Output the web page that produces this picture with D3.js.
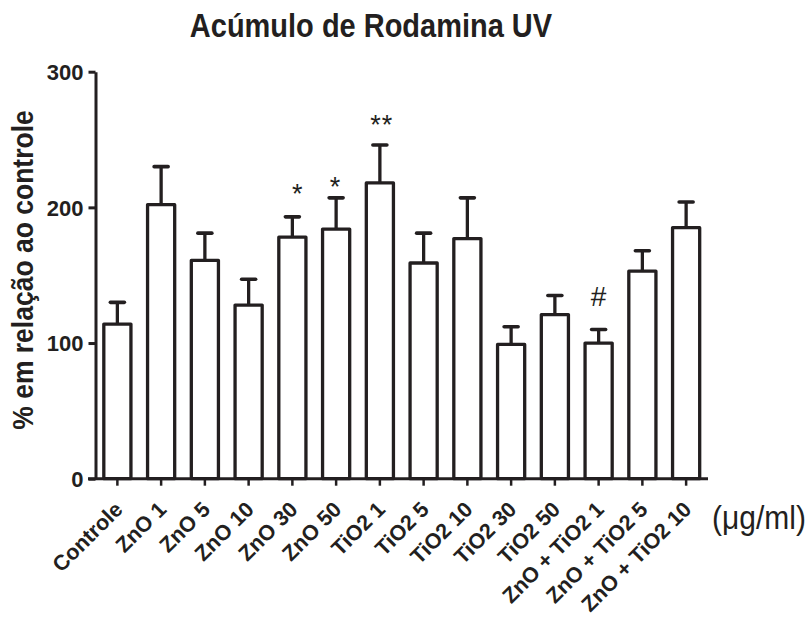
<!DOCTYPE html>
<html>
<head>
<meta charset="utf-8">
<script src="https://cdn.jsdelivr.net/npm/d3@7"></script>
<style>
  html, body { margin: 0; padding: 0; background: #fff; }
  text { font-family: "Liberation Sans", Arial, Helvetica, sans-serif; fill: #231f20; }
</style>
</head>
<body>
<svg id="chart" width="808" height="623"></svg>
<script>
// Rhodamine accumulation under UV, as % of control (mean + SEM)
const categories = ["Controle", "ZnO 1", "ZnO 5", "ZnO 10", "ZnO 30", "ZnO 50",
  "TiO2 1", "TiO2 5", "TiO2 10", "TiO2 30", "TiO2 50",
  "ZnO + TiO2 1", "ZnO + TiO2 5", "ZnO + TiO2 10"];
const means = [114, 202, 161, 128, 178, 184, 218, 159, 177, 99, 121, 100, 153, 185];
const sem = [16, 28, 20, 19, 15, 23, 28, 22, 30, 13, 14, 10, 15, 19];
const marks = ["", "", "", "", "*", "*", "**", "", "", "", "", "#", "", ""];
const yTicks = [0, 100, 200, 300];

const ink = "#231f20";
const svg = d3.select("#chart");

const x = d3.scaleBand().domain(categories).range([95.5, 708]).padding(0);
const y = d3.scaleLinear().domain([0, 300]).range([478.7, 71.7]);
const barW = x.bandwidth() * 0.62;
const cx = c => x(c) + x.bandwidth() / 2;

// Title
svg.append("text")
  .attr("transform", "translate(371,37) scale(1,1.12)")
  .attr("text-anchor", "middle")
  .attr("font-size", 29).attr("font-weight", "bold")
  .text("Acúmulo de Rodamina UV");

// Y axis title
svg.append("text")
  .attr("transform", "translate(33,270) rotate(-90) scale(1,1.08)")
  .attr("text-anchor", "middle")
  .attr("font-size", 26.5).attr("font-weight", "bold")
  .text("% em relação ao controle");

// Bars
const data = categories.map((c, i) => ({ c, m: means[i], e: sem[i], s: marks[i] }));

svg.append("g").selectAll("rect").data(data).join("rect")
  .attr("x", d => cx(d.c) - barW / 2)
  .attr("y", d => y(d.m))
  .attr("width", barW)
  .attr("height", d => y(0) - y(d.m))
  .attr("fill", "#fff")
  .attr("stroke", ink)
  .attr("stroke-width", 3.3)
  .attr("stroke-linejoin", "round");

// Error bars (upper only)
const eb = svg.append("g").attr("stroke", ink);
eb.selectAll("line.v").data(data).join("line").attr("class", "v")
  .attr("x1", d => cx(d.c)).attr("x2", d => cx(d.c))
  .attr("y1", d => y(d.m)).attr("y2", d => y(d.m + d.e))
  .attr("stroke-width", 3.3);
eb.selectAll("line.cap").data(data).join("line").attr("class", "cap")
  .attr("x1", d => cx(d.c) - 7).attr("x2", d => cx(d.c) + 7)
  .attr("y1", d => y(d.m + d.e)).attr("y2", d => y(d.m + d.e))
  .attr("stroke-width", 3.6).attr("stroke-linecap", "round");

// Significance marks: gap (px) between the error cap and the top of the glyph
const markGap = { "ZnO 30": 33, "ZnO 50": 21, "TiO2 1": 30, "ZnO + TiO2 1": 44 };
const markNudge = { "ZnO 30": 5, "ZnO 50": -1, "TiO2 1": 2, "ZnO + TiO2 1": 0 };
svg.append("g").selectAll("text").data(data.filter(d => d.s)).join("text")
  .each(function (d) {
    const fs = d.s === "#" ? 28 : 27;
    const top = y(d.m + d.e) - (markGap[d.c] || 20);
    d3.select(this)
      .attr("x", cx(d.c) + (markNudge[d.c] || 0))
      .attr("y", top + 0.716 * fs)
      .attr("font-size", fs);
  })
  .attr("text-anchor", "middle")
  .attr("letter-spacing", d => d.s === "**" ? 1 : 0)
  .text(d => d.s);

// Axes
const yAxis = d3.axisLeft(y).tickValues(yTicks).tickSize(7).tickPadding(5).tickSizeOuter(0);
const gy = svg.append("g").attr("transform", "translate(95.5,0)").call(yAxis);
gy.select(".domain").attr("stroke", ink).attr("stroke-width", 3);
gy.selectAll(".tick line").attr("stroke", ink).attr("stroke-width", 3);
gy.selectAll(".tick text")
  .attr("font-family", "Liberation Sans, Arial, sans-serif")
  .attr("font-size", 22).attr("font-weight", "bold").attr("fill", ink)
  .attr("dy", "0.36em");

const xAxis = d3.axisBottom(x).tickSize(7).tickSizeOuter(0).tickPadding(4);
const gx = svg.append("g").attr("transform", `translate(0,${y(0)})`).call(xAxis);
gx.select(".domain").attr("stroke", ink).attr("stroke-width", 3)
  .attr("d", `M88,0H708`);
gx.selectAll(".tick line").attr("stroke", ink).attr("stroke-width", 2.5);
gx.selectAll(".tick text")
  .attr("font-family", "Liberation Sans, Arial, sans-serif")
  .attr("font-size", 21.5).attr("font-weight", "bold").attr("fill", ink)
  .attr("text-anchor", "end")
  .attr("dy", null).attr("y", 0)
  .attr("transform", "translate(6.5,32) rotate(-45)");

// Unit label
svg.append("text")
  .attr("transform", "translate(712,529) scale(1,1.1)")
  .attr("font-size", 30)
  .text("(μg/ml)");
</script>
</body>
</html>
